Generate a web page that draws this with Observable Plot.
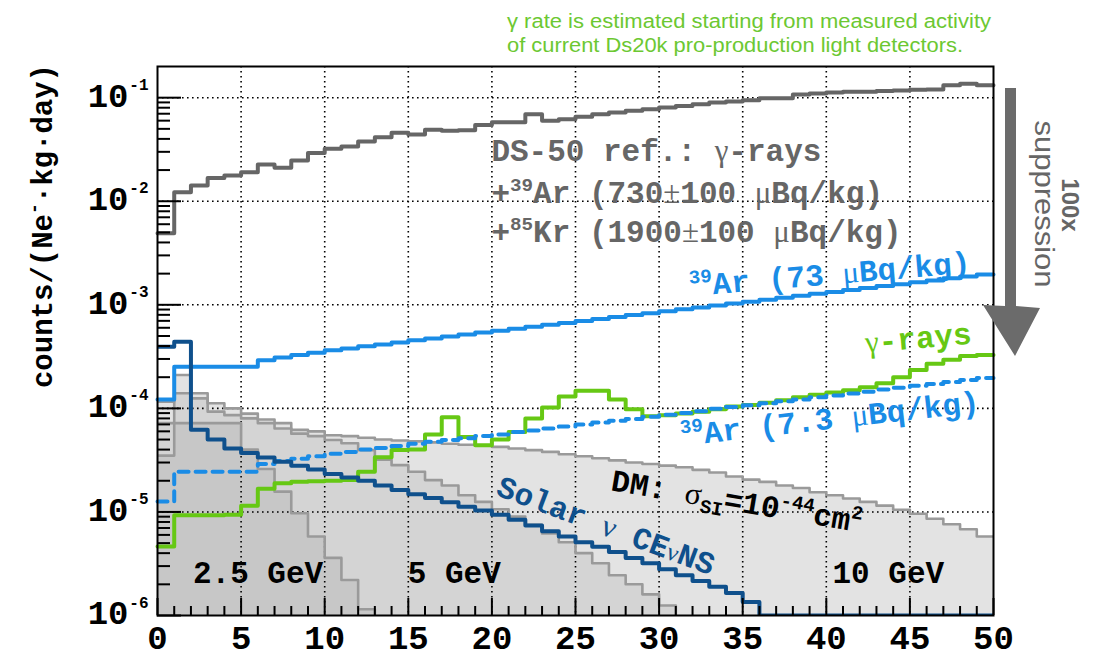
<!DOCTYPE html>
<html><head><meta charset="utf-8">
<script src="https://cdn.jsdelivr.net/npm/d3@7"></script>
<script src="https://cdn.jsdelivr.net/npm/@observablehq/plot@0.6"></script>
<style>
html,body{margin:0;padding:0;background:#fff;}
#chart{width:1101px;height:664px;overflow:hidden;}
</style></head><body><div id="chart"></div>
<script>
// ---- data: 1-Ne bins from 0 to 50 (value of bin i spans [i, i+1]) ----
const ds50 = [4.9e-3,1.22e-2,1.42e-2,1.68e-2,1.77e-2,1.91e-2,2.26e-2,2.1e-2,2.48e-2,2.92e-2,
 3.22e-2,3.38e-2,3.78e-2,4.16e-2,4.58e-2,4.41e-2,4.9e-2,4.8e-2,4.85e-2,5.46e-2,
 5.78e-2,5.78e-2,6.9e-2,6.0e-2,6.2e-2,6.55e-2,6.9e-2,7.2e-2,7.46e-2,7.74e-2,
 8.03e-2,8.33e-2,8.64e-2,8.96e-2,9.16e-2,9.43e-2,9.86e-2,9.9e-2,0.1075,0.11,
 0.112,0.114,0.114,0.116,0.117,0.119,0.12,0.132,0.136,0.132];
const ar73 = [1.22e-4,2.52e-4,2.52e-4,2.52e-4,2.52e-4,2.52e-4,2.92e-4,3.1e-4,3.27e-4,3.44e-4,
 3.65e-4,3.79e-4,3.99e-4,4.14e-4,4.33e-4,4.56e-4,4.73e-4,4.95e-4,5.17e-4,5.39e-4,
 5.63e-4,5.88e-4,6.14e-4,6.41e-4,6.69e-4,6.98e-4,7.29e-4,7.61e-4,7.95e-4,8.3e-4,
 8.66e-4,9.04e-4,9.44e-4,9.86e-4,1.03e-3,1.07e-3,1.12e-3,1.17e-3,1.22e-3,1.28e-3,
 1.33e-3,1.39e-3,1.45e-3,1.52e-3,1.58e-3,1.65e-3,1.72e-3,1.8e-3,1.88e-3,1.96e-3];
const ar7 = [1.26e-5,2.45e-5,2.45e-5,2.45e-5,2.45e-5,2.45e-5,2.9e-5,3.1e-5,3.27e-5,3.44e-5,
 3.65e-5,3.8e-5,4.0e-5,4.15e-5,4.33e-5,4.55e-5,4.75e-5,4.95e-5,5.15e-5,5.4e-5,
 5.6e-5,5.9e-5,6.1e-5,6.4e-5,6.7e-5,7.0e-5,7.3e-5,7.6e-5,7.9e-5,8.3e-5,
 8.7e-5,9.0e-5,9.4e-5,9.9e-5,1.03e-4,1.07e-4,1.12e-4,1.17e-4,1.22e-4,1.28e-4,
 1.33e-4,1.39e-4,1.45e-4,1.52e-4,1.58e-4,1.65e-4,1.72e-4,1.8e-4,1.88e-4,1.96e-4];
const gammas = [4.63e-6,9.3e-6,9.3e-6,9.3e-6,9.4e-6,1.15e-5,1.67e-5,1.89e-5,1.96e-5,1.98e-5,
 2.0e-5,2.03e-5,2.45e-5,3.37e-5,3.96e-5,4.0e-5,5.6e-5,8.2e-5,5.3e-5,4.4e-5,
 5.0e-5,5.9e-5,8.0e-5,1.02e-4,1.3e-4,1.48e-4,1.48e-4,1.22e-4,9.8e-5,8.4e-5,
 8.6e-5,8.9e-5,9.3e-5,9.8e-5,1.04e-4,1.08e-4,1.13e-4,1.2e-4,1.28e-4,1.35e-4,
 1.42e-4,1.5e-4,1.6e-4,1.75e-4,2.0e-4,2.35e-4,2.69e-4,2.94e-4,3.2e-4,3.28e-4];
const solarNu = [3.94e-4,4.4e-4,6.2e-5,5.0e-5,4.1e-5,3.7e-5,3.35e-5,3.05e-5,2.8e-5,2.57e-5,
 2.33e-5,2.15e-5,2.0e-5,1.8e-5,1.63e-5,1.48e-5,1.36e-5,1.24e-5,1.12e-5,1.03e-5,
 9.4e-6,8.4e-6,7.4e-6,6.5e-6,5.8e-6,5.1e-6,4.6e-6,4.1e-6,3.6e-6,3.2e-6,
 2.8e-6,2.45e-6,2.15e-6,1.9e-6,1.65e-6,1.35e-6,1e-6,1e-6,1e-6,1e-6,
 1e-6,1e-6,1e-6,1e-6,1e-6,1e-6,1e-6,1e-6,1e-6,1e-6];
const dm10 = [1.16e-4,2.1e-4,1.4e-4,1.12e-4,1.0e-4,8.9e-5,7.8e-5,7.2e-5,6.2e-5,6.0e-5,
 5.5e-5,5.4e-5,5.2e-5,5.0e-5,4.9e-5,4.8e-5,4.7e-5,4.55e-5,4.45e-5,4.35e-5,
 4.25e-5,4.1e-5,3.95e-5,3.8e-5,3.6e-5,3.45e-5,3.3e-5,3.15e-5,3.0e-5,2.9e-5,
 2.8e-5,2.7e-5,2.55e-5,2.4e-5,2.2e-5,2.05e-5,1.95e-5,1.8e-5,1.7e-5,1.55e-5,
 1.45e-5,1.35e-5,1.25e-5,1.15e-5,1.05e-5,9.6e-6,8.6e-6,7.6e-6,6.8e-6,5.8e-6];
const dm5 = [7.2e-5,1.4e-4,1.25e-4,9.3e-5,8.6e-5,8.0e-5,7.2e-5,6.4e-5,5.7e-5,5.4e-5,
 4.95e-5,4.6e-5,3.95e-5,3.2e-5,2.83e-5,2.44e-5,2.03e-5,1.8e-5,1.45e-5,1.25e-5,
 1.06e-5,9.0e-6,7.5e-6,6.2e-6,5.1e-6,4.0e-6,3.2e-6,2.45e-6,2.0e-6,1.6e-6,
 1.25e-6,5e-7,5e-7,5e-7,5e-7,5e-7,5e-7,5e-7,5e-7,5e-7,
 5e-7,5e-7,5e-7,5e-7,5e-7,5e-7,5e-7,5e-7,5e-7,5e-7];
const dm25 = [3.5e-5,7.2e-5,7.2e-5,7.2e-5,7.2e-5,4.0e-5,2.6e-5,1.57e-5,9.7e-6,5.8e-6,
 3.6e-6,2.2e-6,1.15e-6,5e-7,5e-7,5e-7,5e-7,5e-7,5e-7,5e-7,
 5e-7,5e-7,5e-7,5e-7,5e-7,5e-7,5e-7,5e-7,5e-7,5e-7,
 5e-7,5e-7,5e-7,5e-7,5e-7,5e-7,5e-7,5e-7,5e-7,5e-7,
 5e-7,5e-7,5e-7,5e-7,5e-7,5e-7,5e-7,5e-7,5e-7,5e-7];

const xMajor = [0,5,10,15,20,25,30,35,40,45,50];
const xGrid = [5,10,15,20,25,30,35,40,45];
const yMajor = [1e-6,1e-5,1e-4,1e-3,1e-2,1e-1];
const yGrid = [1e-5,1e-4,1e-3,1e-2,1e-1];

// ---- helpers ----
const MONO = "'Liberation Mono','DejaVu Sans Mono',monospace";
const SERIF = "'Liberation Serif','DejaVu Serif',serif";
const SANS = "'Liberation Sans',Arial,sans-serif";
const steps = vals => d3.range(51).map(i => ({x: i, v: vals[Math.min(i, 49)]}));
const xMinor = d3.range(0, 51).filter(v => v % 5 !== 0);
const yMinor = [];
for (let e = -6; e <= -2; e++) for (let k = 2; k <= 9; k++) yMinor.push(k * Math.pow(10, e));

// envelopes (sorted per bin) to shade overlapping regions
const envMax = dm10.map((v, i) => Math.max(v, dm5[i], dm25[i]));
const envMin = dm10.map((v, i) => Math.min(v, dm5[i], dm25[i]));
const envMid = dm10.map((v, i) => v + dm5[i] + dm25[i] - envMax[i] - envMin[i]);
const base = () => 1e-6;
const stepLine = (vals, o) => Plot.line(steps(vals), {x: "x", y: "v", curve: "step-after", ...o});

const plot = Plot.plot({
  width: 1101, height: 664,
  marginLeft: 157, marginRight: 108, marginTop: 66, marginBottom: 49,
  style: {background: "#fff", overflow: "visible"},
  x: {domain: [0, 50]},
  y: {type: "log", domain: [1e-6, 0.2]},
  marks: [
    Plot.areaY(steps(envMax), {x: "x", y1: base, y2: "v", curve: "step-after", fill: "#e3e3e3", clip: true}),
    Plot.areaY(steps(envMid), {x: "x", y1: base, y2: "v", curve: "step-after", fill: "#d4d4d4", clip: true}),
    Plot.areaY(steps(envMin), {x: "x", y1: base, y2: "v", curve: "step-after", fill: "#c7c7c7", clip: true}),
    Plot.ruleX(xGrid, {stroke: "#000", strokeWidth: 1.6, strokeDasharray: "1.6,3.4"}),
    Plot.ruleY(yGrid, {stroke: "#000", strokeWidth: 1.6, strokeDasharray: "1.6,3.4"}),
    stepLine(dm10, {stroke: "#9a9a9a", strokeWidth: 2.6, clip: true}),
    stepLine(dm5, {stroke: "#9a9a9a", strokeWidth: 2.6, clip: true}),
    stepLine(dm25, {stroke: "#9a9a9a", strokeWidth: 2.6, clip: true}),
    stepLine(ds50, {stroke: "#666666", strokeWidth: 4}),
    stepLine(ar73, {stroke: "#1a8ce6", strokeWidth: 4}),
    stepLine(gammas, {stroke: "#66c814", strokeWidth: 4}),
    stepLine(ar7, {stroke: "#1a8ce6", strokeWidth: 4, strokeDasharray: "10,7"}),
    stepLine(solarNu, {stroke: "#0f508c", strokeWidth: 4, clip: true}),
    Plot.frame({stroke: "#000", strokeWidth: 2}),
    Plot.axisX({ticks: xMajor, tickSize: 17, dy: -17, tickFormat: () => "", label: null, strokeWidth: 2}),
    Plot.axisX({ticks: xMinor, tickSize: 9, dy: -9, tickFormat: () => "", label: null, strokeWidth: 2}),
    Plot.axisY({ticks: yMajor, tickSize: 24, dx: 24, tickFormat: () => "", label: null, strokeWidth: 2}),
    Plot.axisY({ticks: yMinor, tickSize: 13, dx: 13, tickFormat: () => "", label: null, strokeWidth: 2}),
    Plot.axisX({ticks: xMajor, tickSize: 0, tickPadding: 9, tickFormat: d => String(d), label: null,
      fontSize: 34, fontWeight: "bold", fontFamily: MONO, fill: "#000"}),
    Plot.axisY({ticks: yMajor, tickSize: 0, tickPadding: 29, tickFormat: () => "10", label: null, dy: -2,
      fontSize: 34, fontWeight: "bold", fontFamily: MONO, fill: "#000"}),
    Plot.axisY({ticks: yMajor, tickSize: 0, tickPadding: 9, tickFormat: d => "-" + Math.round(-Math.log10(d)), label: null, dy: -13,
      fontSize: 16, fontWeight: "bold", fontFamily: MONO, fill: "#000"})
  ]
});
document.getElementById("chart").appendChild(plot);

// ---- annotations (positions in data units, mapped through Plot's scales) ----
const sx = plot.scale("x"), sy = plot.scale("y");
const fx = sx && sx.apply ? v => sx.apply(v) : d3.scaleLinear([0, 50], [157, 993]);
const fy = sy && sy.apply ? v => sy.apply(v) : d3.scaleLog([1e-6, 0.2], [615, 66]);
const g = d3.select(plot).append("g");

function rich(parts, {x, y, rotate = 0, size, family = MONO, weight = "bold", fill = "#000", anchor = "start"}) {
  const t = g.append("text")
    .attr("transform", `translate(${x},${y}) rotate(${rotate})`)
    .attr("font-family", family).attr("font-size", size).attr("font-weight", weight)
    .attr("fill", fill).attr("text-anchor", anchor).style("white-space", "pre");
  let shift = 0;
  for (const p of parts) {
    const [str, kind] = typeof p === "string" ? [p, null] : p;
    const ts = t.append("tspan").text(str);
    let target = 0;
    if (kind === "sup") { ts.attr("font-size", size * 0.62); target = -size * 0.4; }
    else if (kind === "sub") { ts.attr("font-size", size * 0.62); target = size * 0.22; }
    else if (kind === "greek") { ts.attr("font-family", SERIF).attr("font-weight", "normal"); }
    else if (kind === "greekS") { ts.attr("font-family", SERIF).attr("font-weight", "normal").attr("font-size", size * 0.8); }
    if (target !== shift) { ts.attr("dy", target - shift); shift = target; }
  }
  return t;
}

const GRAY = "#666666", BLUE = "#1a8ce6", GREEN = "#66c814", NAVY = "#0f508c";
rich(["DS-50 ref.: ", ["γ", "greek"], "-rays"], {x: fx(20), y: fy(0.024), size: 31, fill: GRAY});
rich(["+", ["39", "sup"], "Ar (730", ["±", "greek"], "100 ", ["μ", "greek"], "Bq/kg)"], {x: fx(20), y: fy(0.0095), size: 31, fill: GRAY});
rich(["+", ["85", "sup"], "Kr (1900", ["±", "greek"], "100 ", ["μ", "greek"], "Bq/kg)"], {x: fx(20), y: fy(0.004), size: 31, fill: GRAY});
rich([["39", "sup"], "Ar (73 ", ["μ", "greek"], "Bq/kg)"], {x: fx(31.9), y: fy(1.2e-3), rotate: -4.8, size: 31, fill: BLUE});
rich([["γ", "greek"], "-rays"], {x: fx(42.4), y: fy(3.4e-4), rotate: -5, size: 31, fill: GREEN});
rich([["39", "sup"], "Ar (7.3 ", ["μ", "greek"], "Bq/kg)"], {x: fx(31.4), y: fy(4.3e-5), rotate: -6.5, size: 31, fill: BLUE});
rich(["Solar ", ["ν", "greek"], " CE", ["ν", "greekS"], "NS"], {x: fx(20.2), y: fy(1.45e-5), rotate: 20.5, size: 31, fill: NAVY});
rich(["DM: ", ["σ", "greek"], ["SI", "sub"], "=10", ["-44", "sup"], "cm", ["2", "sup"]], {x: fx(27.1), y: fy(1.6e-5), rotate: 9.5, size: 31, fill: "#000"});
rich(["2.5 GeV"], {x: fx(2.15), y: fy(2.04e-6), size: 31});
rich(["5 GeV"], {x: fx(15.0), y: fy(2.04e-6), size: 31});
rich(["10 GeV"], {x: fx(40.4), y: fy(2.04e-6), size: 31});

// outside the frame: y title, note, suppression arrow
rich(["counts/(Ne", ["-", "sup"], "·kg·day)"], {x: 52, y: 226, rotate: -90, size: 29, anchor: "middle"});
rich(["γ rate is estimated starting from measured activity"], {x: 507, y: 28, size: 19.5, family: SANS, weight: "normal", fill: "#6cc832"})
  .attr("textLength", 484).attr("lengthAdjust", "spacingAndGlyphs");
rich(["of current Ds20k pro-production light detectors."], {x: 507, y: 52, size: 19.5, family: SANS, weight: "normal", fill: "#6cc832"})
  .attr("textLength", 456).attr("lengthAdjust", "spacingAndGlyphs");
g.append("path")
  .attr("d", "M1005,88 L1016,88 L1016,306 L1040,308 L1015,356 L983,305 L1005,306 Z")
  .attr("fill", "#6b6b6b");
rich(["suppression"], {x: 1035, y: 204, rotate: 90, size: 27, family: SANS, weight: "normal", fill: "#666", anchor: "middle"})
  .attr("textLength", 167).attr("lengthAdjust", "spacingAndGlyphs");
rich(["100x"], {x: 1062, y: 205, rotate: 90, size: 24, family: SANS, weight: "bold", fill: "#666", anchor: "middle"});
</script>
</body></html>
